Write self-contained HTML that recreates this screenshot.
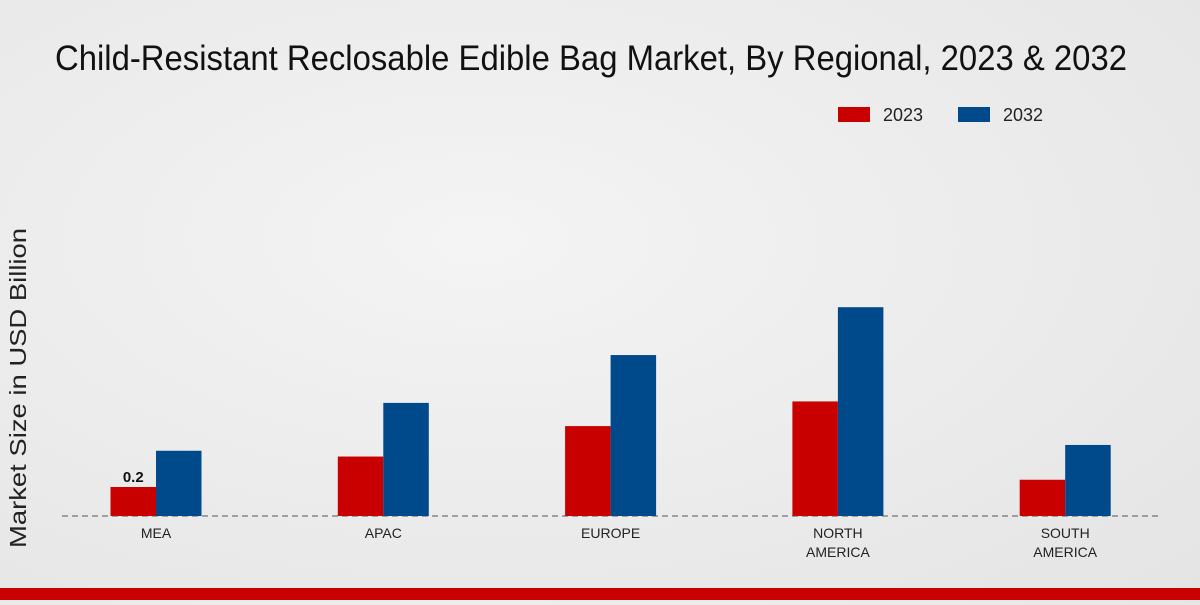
<!DOCTYPE html>
<html><head><meta charset="utf-8"><style>
body{margin:0;width:1200px;height:600px;overflow:hidden;background:radial-gradient(ellipse at 40% 40%,#f4f4f4,#e4e4e4);font-family:"Liberation Sans",sans-serif;}
</style></head><body>
<svg width="1200" height="600">
<text x="55" y="70" textLength="1072" lengthAdjust="spacingAndGlyphs" font-size="35" fill="#111">Child-Resistant Reclosable Edible Bag Market, By Regional, 2023 &amp; 2032</text>
<g>
<rect x="838" y="107" width="32" height="15" fill="#c80000"/>
<text x="883" y="121" font-size="18" fill="#222">2023</text>
<rect x="958" y="107" width="32" height="15" fill="#004a8c"/>
<text x="1003" y="121" font-size="18" fill="#222">2032</text>
</g>
<text transform="translate(26,548) rotate(-90)" textLength="320" lengthAdjust="spacingAndGlyphs" font-size="23" fill="#222">Market Size in USD Billion</text>
<line x1="62" y1="516" x2="1160" y2="516" stroke="#555" stroke-dasharray="6,4"/>
<g id="bars"></g>
<rect x="0" y="588" width="1200" height="12" fill="#c80000"/>
</svg>
<script>
const categories=[["MEA"],["APAC"],["EUROPE"],["NORTH","AMERICA"],["SOUTH","AMERICA"]];
const values2023=[0.2,0.41,0.62,0.79,0.25];
const values2032=[0.45,0.78,1.11,1.44,0.49];
const ns="http://www.w3.org/2000/svg";
const g=document.getElementById("bars");
const base=516,scale=145,x0=156,step=227.3,bw=45.5;
const y=v=>base-v*scale;
function mk(t,a){const e=document.createElementNS(ns,t);for(const k in a)e.setAttribute(k,a[k]);g.appendChild(e);return e;}
categories.forEach((c,i)=>{
 const cx=x0+i*step;
 const r=mk("rect",{x:cx-bw,y:y(values2023[i]),width:bw,height:values2023[i]*scale,fill:"#c80000"});
 
 
 const b=mk("rect",{x:cx,y:y(values2032[i]),width:bw,height:values2032[i]*scale,fill:"#004a8c"});
 
 
 c.forEach((line,j)=>{
  const t=mk("text",{x:cx,y:538+j*19,"text-anchor":"middle","font-size":"14",fill:"#222"});
  t.textContent=line;
  
  
 });
});
const lab=mk("text",{x:x0-bw/2,y:y(values2023[0])-5,"text-anchor":"middle","font-size":"15","font-weight":"bold",fill:"#111"});
lab.textContent=values2023[0];


</script>
</body></html>
